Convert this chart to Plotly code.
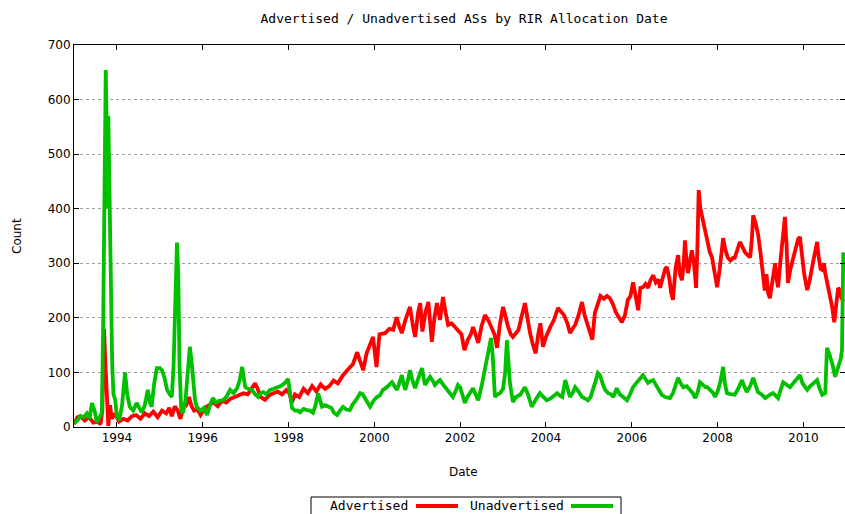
import plotly.graph_objects as go

# ---- data (decimal year, count) ----
adv_dates = [1993.00,1993.08,1993.15,1993.25,1993.35,1993.45,1993.55,1993.62,1993.66,1993.70,1993.73,1993.76,1993.80,1993.84,1993.88,1993.95,
1994.05,1994.15,1994.25,1994.35,1994.45,1994.55,1994.65,1994.75,1994.85,1994.95,1995.05,1995.15,1995.22,1995.28,1995.35,1995.42,1995.48,1995.55,1995.62,1995.68,1995.74,1995.80,1995.88,1995.95,
1996.05,1996.15,1996.25,1996.35,1996.45,1996.55,1996.65,1996.75,1996.85,1996.95,1997.05,1997.15,1997.22,1997.28,1997.35,1997.45,1997.55,1997.65,1997.75,1997.85,1997.95,
1998.02,1998.08,1998.15,1998.25,1998.35,1998.45,1998.55,1998.65,1998.75,1998.85,1998.95,1999.05,1999.15,1999.27,1999.38,1999.50,1999.60,1999.67,1999.74,1999.82,1999.90,1999.97,
2000.05,2000.12,2000.25,2000.35,2000.44,2000.52,2000.58,2000.64,2000.72,2000.83,2000.90,2000.95,2001.02,2001.07,2001.12,2001.19,2001.26,2001.30,2001.34,2001.40,2001.46,2001.53,2001.60,2001.66,2001.72,2001.80,2001.88,2001.96,
2002.03,2002.10,2002.18,2002.25,2002.30,2002.36,2002.42,2002.50,2002.58,2002.66,2002.74,2002.80,2002.86,2002.93,2003.00,2003.06,2003.12,2003.18,2003.23,2003.30,2003.36,2003.44,2003.51,2003.57,2003.63,2003.70,2003.76,2003.82,2003.87,2003.93,
2004.00,2004.10,2004.18,2004.28,2004.35,2004.42,2004.50,2004.56,2004.62,2004.68,2004.76,2004.84,2004.90,2004.96,2005.03,2005.08,2005.14,2005.20,2005.27,2005.35,2005.42,2005.49,2005.56,2005.63,2005.70,2005.77,2005.84,2005.91,2005.97,
2006.03,2006.09,2006.15,2006.20,2006.26,2006.32,2006.38,2006.44,2006.50,2006.56,2006.62,2006.66,2006.72,2006.78,2006.82,2006.88,2006.92,2006.96,2007.02,2007.08,2007.12,2007.17,2007.21,2007.24,2007.28,2007.31,2007.36,2007.40,2007.45,2007.50,2007.53,2007.56,2007.60,2007.66,2007.72,2007.78,2007.82,2007.87,2007.93,2007.99,
2008.05,2008.10,2008.13,2008.18,2008.24,2008.30,2008.36,2008.40,2008.46,2008.52,2008.58,2008.64,2008.70,2008.76,2008.80,2008.83,2008.88,2008.94,2009.00,2009.06,2009.10,2009.14,2009.18,2009.22,2009.27,2009.31,2009.34,2009.38,2009.41,2009.46,2009.52,2009.57,2009.61,2009.64,2009.70,2009.76,2009.82,2009.88,2009.92,2009.96,
2010.02,2010.09,2010.15,2010.22,2010.28,2010.32,2010.36,2010.40,2010.44,2010.48,2010.51,2010.56,2010.62,2010.67,2010.72,2010.76,2010.81,2010.85,2010.88,2010.93]
adv_counts = [5,18,20,12,18,8,10,5,30,180,120,50,2,40,15,25,
10,15,12,20,22,15,25,20,28,18,30,25,35,20,38,30,15,35,40,55,38,30,32,22,
35,40,45,38,48,45,52,55,58,62,60,72,80,70,55,50,58,62,65,60,68,
62,45,60,55,70,62,75,65,78,70,75,85,80,95,105,115,137,120,104,135,150,165,
110,170,172,180,178,201,185,172,195,220,185,165,210,227,175,210,229,185,156,200,227,196,238,210,187,190,183,175,
170,141,160,170,183,170,154,185,205,195,178,170,145,190,220,200,183,170,165,172,178,205,227,200,172,150,135,170,190,147,
165,183,195,218,212,205,190,172,180,187,205,229,205,190,175,160,209,225,240,235,240,236,225,210,200,192,205,233,240,
265,240,214,255,256,262,255,270,278,265,270,255,275,290,293,270,245,233,290,315,280,269,300,342,300,282,305,324,300,255,330,434,400,379,350,330,320,311,285,256,
290,320,346,325,310,305,310,310,325,339,330,320,315,311,345,388,375,355,320,269,250,280,245,236,265,290,300,270,256,300,340,385,330,264,290,310,330,345,348,320,
280,251,270,300,325,339,310,290,288,300,282,265,242,220,192,225,255,250,238,230]

unadv_dates = [1993.00,1993.08,1993.15,1993.22,1993.30,1993.36,1993.42,1993.48,1993.53,1993.60,1993.65,1993.68,1993.71,1993.74,1993.76,1993.78,1993.80,1993.83,1993.86,1993.89,1993.92,1993.96,
1994.00,1994.06,1994.12,1994.19,1994.24,1994.30,1994.38,1994.46,1994.52,1994.58,1994.65,1994.72,1994.77,1994.81,1994.87,1994.93,1995.00,1995.05,1995.11,1995.17,1995.23,1995.28,1995.32,1995.35,1995.38,1995.40,1995.43,1995.46,1995.50,1995.54,1995.60,1995.65,1995.70,1995.74,1995.77,1995.82,1995.86,1995.95,
1996.03,1996.10,1996.17,1996.24,1996.30,1996.38,1996.47,1996.55,1996.64,1996.72,1996.80,1996.86,1996.92,1996.96,1996.99,1997.06,1997.15,1997.22,1997.29,1997.35,1997.41,1997.48,1997.57,1997.65,1997.73,1997.82,1997.92,1997.99,
1998.04,1998.08,1998.15,1998.22,1998.27,1998.35,1998.43,1998.50,1998.57,1998.63,1998.69,1998.74,1998.78,1998.85,1998.92,1999.00,1999.06,1999.13,1999.20,1999.27,1999.35,1999.43,1999.50,1999.58,1999.67,1999.73,1999.78,1999.84,1999.90,1999.98,
2000.06,2000.13,2000.20,2000.28,2000.35,2000.41,2000.47,2000.53,2000.58,2000.64,2000.68,2000.72,2000.78,2000.83,2000.89,2000.95,2001.02,2001.08,2001.11,2001.15,2001.18,2001.24,2001.30,2001.36,2001.41,2001.47,2001.53,2001.60,2001.69,2001.76,2001.83,2001.89,2001.95,
2002.00,2002.06,2002.11,2002.17,2002.23,2002.30,2002.36,2002.42,2002.50,2002.58,2002.66,2002.72,2002.76,2002.81,2002.87,2002.93,2003.00,2003.05,2003.09,2003.13,2003.16,2003.23,2003.30,2003.40,2003.51,2003.58,2003.67,2003.76,2003.86,2003.94,
2004.02,2004.10,2004.18,2004.26,2004.32,2004.38,2004.45,2004.50,2004.56,2004.62,2004.68,2004.76,2004.84,2004.92,2004.98,2005.04,2005.10,2005.16,2005.21,2005.26,2005.32,2005.38,2005.45,2005.52,2005.57,2005.65,2005.72,2005.80,2005.89,2005.96,
2006.03,2006.10,2006.18,2006.26,2006.32,2006.38,2006.44,2006.50,2006.58,2006.64,2006.70,2006.78,2006.89,2006.96,2007.02,2007.08,2007.14,2007.20,2007.28,2007.36,2007.42,2007.48,2007.54,2007.59,2007.66,2007.72,2007.76,2007.82,2007.90,2007.94,
2008.00,2008.06,2008.13,2008.17,2008.22,2008.30,2008.40,2008.48,2008.57,2008.62,2008.68,2008.76,2008.83,2008.88,2008.94,2009.02,2009.11,2009.20,2009.29,2009.35,2009.41,2009.47,2009.53,2009.60,2009.69,2009.76,2009.84,2009.92,2009.98,
2010.04,2010.09,2010.16,2010.24,2010.32,2010.38,2010.44,2010.51,2010.55,2010.60,2010.67,2010.74,2010.81,2010.87,2010.90,2010.93]
unadv_counts = [7,12,20,18,25,15,44,30,9,20,26,190,500,654,560,400,570,400,220,115,60,50,
20,13,40,100,60,37,30,44,35,27,40,68,45,37,80,108,108,104,90,68,60,55,110,190,300,338,282,110,30,26,50,100,147,120,86,50,37,30,
35,22,40,53,45,48,49,55,68,62,71,85,110,90,73,70,68,60,55,62,64,60,68,70,73,75,81,88,
60,35,30,30,27,33,31,30,26,40,62,50,37,40,37,35,26,22,30,37,32,31,42,50,62,60,53,45,37,48,
55,58,68,72,78,82,75,68,80,95,80,68,85,104,85,71,88,100,108,90,77,85,92,85,77,82,86,78,68,60,55,65,77,
73,55,44,55,64,71,60,49,75,104,135,163,130,55,60,62,70,100,159,120,81,46,55,59,73,60,37,50,62,55,
49,52,58,62,58,55,86,70,55,62,73,65,55,52,49,55,73,85,99,95,80,68,62,60,55,71,60,55,49,60,
73,80,88,95,88,81,84,86,75,65,59,55,53,62,75,90,80,73,75,68,62,53,65,82,78,73,73,68,62,55,
65,81,110,80,62,60,59,70,86,75,64,75,90,78,64,60,53,58,62,58,53,68,82,78,73,80,88,95,80,
72,68,75,80,86,70,59,62,145,135,117,92,110,125,141,320]

year_ticks = [1994, 1996, 1998, 2000, 2002, 2004, 2006, 2008, 2010]
count_ticks = [0, 100, 200, 300, 400, 500, 600, 700]
series_names = ["Advertised", "Unadvertised"]
series_colors = ["#ff0000", "#00c000"]

# ---- geometry: reference pixel layout (page body margin removed via post_script) ----
W, H = 845, 514
L, R, T, B = 74, 845, 45, 427  # plot area in window pixels


def px(x):
    return (x - L) / (R - L)


def py(y):
    return (B - y) / (B - T)


fig = go.Figure()
fig.add_trace(go.Scatter(x=adv_dates, y=adv_counts, mode="lines", name=series_names[0],
                         line=dict(color=series_colors[0], width=3.8), showlegend=False,
                         hoverinfo="skip"))
fig.add_trace(go.Scatter(x=unadv_dates, y=unadv_counts, mode="lines", name=series_names[1],
                         line=dict(color=series_colors[1], width=3.8), showlegend=False,
                         hoverinfo="skip"))

tick_font = dict(family="DejaVu Sans", size=12, color="#000000")
mono = dict(family="DejaVu Sans Mono", size=13, color="#000000")

fig.update_layout(
    width=W, height=H,
    margin=dict(l=L, r=W - R, t=T, b=H - B, pad=0),
    paper_bgcolor="white", plot_bgcolor="white",
    title=dict(text="Advertised / Unadvertised ASs by RIR Allocation Date",
               x=464 / W, xanchor="center", xref="container",
               y=1 - 18 / H, yanchor="middle", yref="container", font=mono),
    xaxis=dict(range=[1993.0, 2010.97], tickvals=year_ticks, ticktext=[str(v) for v in year_ticks],
               showgrid=False, zeroline=False, showline=True, linecolor="black", linewidth=1,
               mirror="ticks", ticks="inside", ticklen=5, tickcolor="black", tickfont=tick_font),
    yaxis=dict(range=[0, 700], tickvals=count_ticks, showgrid=True, gridcolor="#a0a0a0",
               griddash="dot", gridwidth=1, zeroline=False, showline=True, linecolor="black",
               linewidth=1, mirror="ticks", ticks="inside", ticklen=5, tickcolor="black",
               tickfont=tick_font),
    showlegend=False,
    hovermode=False,
)

annotations = [
    dict(text="Count", x=px(17), y=py(236), xref="paper", yref="paper", textangle=-90,
         showarrow=False, font=tick_font, xanchor="center", yanchor="middle"),
    dict(text="Date", x=px(463), y=py(472), xref="paper", yref="paper",
         showarrow=False, font=tick_font, xanchor="center", yanchor="middle"),
    dict(text=series_names[0], x=px(410), y=py(506), xref="paper", yref="paper",
         showarrow=False, font=mono, xanchor="right", yanchor="middle"),
    dict(text=series_names[1], x=px(566), y=py(506), xref="paper", yref="paper",
         showarrow=False, font=mono, xanchor="right", yanchor="middle"),
]
shapes = [
    dict(type="rect", xref="paper", yref="paper", x0=px(311), x1=px(621), y0=py(497), y1=py(520),
         line=dict(color="black", width=1), fillcolor="rgba(0,0,0,0)"),
    dict(type="line", xref="paper", yref="paper", x0=px(416), x1=px(458), y0=py(506), y1=py(506),
         line=dict(color=series_colors[0], width=3.8)),
    dict(type="line", xref="paper", yref="paper", x0=px(571), x1=px(613), y0=py(506), y1=py(506),
         line=dict(color=series_colors[1], width=3.8)),
]
fig.update_layout(annotations=annotations, shapes=shapes)

fig.write_html("out.html",
               config={"displayModeBar": False, "staticPlot": True},
               post_script="document.body.style.margin='0';document.body.style.overflow='hidden';")
